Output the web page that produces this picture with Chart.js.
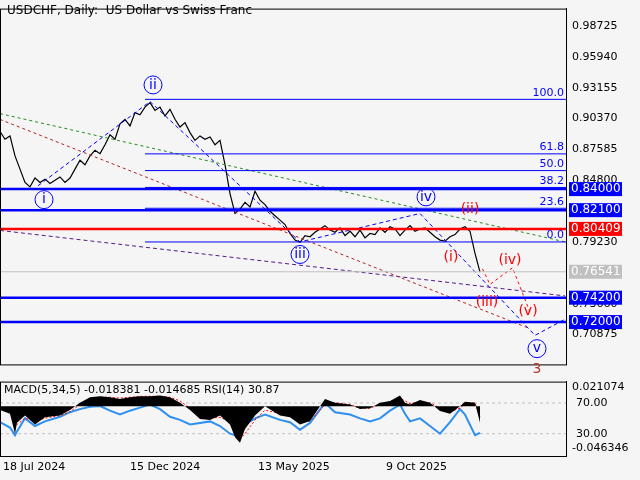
<!DOCTYPE html>
<html>
<head>
<meta charset="utf-8">
<script src="https://cdn.jsdelivr.net/npm/chart.js@4.4.1/dist/chart.umd.min.js"></script>
<style>
  body { margin: 0; background: #f5f5f5; }
  #main { position: absolute; left: 0; top: 0; }
  #sub { position: absolute; left: 0; top: 373px; }
</style>
</head>
<body>
<canvas id="main" width="640" height="373"></canvas>
<canvas id="sub" width="640" height="107"></canvas>
<script>
// price data, x = bar index (weeks), y = close
var priceX = [0,1,2,3,4,5,6,7,8,9,10,11,12,13,14,15,16,17,18,19,20,21,22,23,24,25,26,27,28,29,30,31,32,33,34,35,36,37,38,39,40,41,42,43,44,45,46,47,48,49,50,51,52,53,54,55,56,57,58,59,60,61,62,63,64,65,66,67,68,69,70,71,72,73,74,75,76,77,78,79,80,81,82,83,84,85,86,87,88,89,90,91,92,93,94,95,96];
var priceY = [0.892,0.885,0.888,0.870,0.858,0.846,0.842,0.850,0.846,0.849,0.845,0.848,0.851,0.846,0.850,0.858,0.866,0.862,0.870,0.875,0.872,0.880,0.889,0.885,0.899,0.903,0.897,0.909,0.907,0.914,0.918,0.911,0.914,0.906,0.912,0.903,0.896,0.900,0.891,0.884,0.888,0.885,0.887,0.880,0.884,0.862,0.836,0.818,0.822,0.828,0.824,0.838,0.830,0.826,0.820,0.816,0.812,0.808,0.800,0.794,0.792,0.798,0.797,0.801,0.804,0.807,0.803,0.801,0.805,0.798,0.802,0.797,0.803,0.796,0.800,0.799,0.805,0.801,0.806,0.804,0.798,0.803,0.807,0.802,0.804,0.805,0.801,0.797,0.794,0.793,0.797,0.799,0.804,0.806,0.802,0.782,0.765];
var yTicks = [0.98725,0.95940,0.93155,0.90370,0.87585,0.84800,0.82015,0.79230,0.76445,0.73660,0.70875];
var levels = [0.84000,0.82100,0.74200,0.72000];
var resistance = 0.80409;
var lastPrice = 0.76541;
var fibNames = ['100.0','61.8','50.0','38.2','23.6','0.0'];
var fibValues = [0.9210,0.8718,0.8567,0.8415,0.8227,0.7923];
var greenTrend = [[0,0.9081],[113,0.7924]];
var redTrend = [[0,0.9029],[106,0.7140]];
var purpleTrend = [[0,0.8027],[113,0.7436]];
var bigWave = [[7.6,0.8430],[30,0.9190],[60,0.7923],[84,0.8180],[107,0.7080],[114,0.7250]];
var bigWaveLabels = ['i','ii','iii','iv','v'];
var smallWave = [[96.5,0.7680],[98,0.7540],[102.5,0.7690],[106,0.7290]];
var smallLabels = [['(i)',90.2,0.7785],['(ii)',94,0.8220],['(iii)',97.4,0.7380],['(iv)',102,0.7760],['(v)',105.6,0.7300]];
// sub window
var oscX = [0,2,3,3.4,5,7,9,12,14,16,18,20,22,24,26,28,30,32,34,36,38,40,42,44,46,47,48,49,51,53,56,58,60,62,65,67,70,72,74,76,78,80,81,82,84,86,88,90,92,93,95,96];
var macd = [-0.004,-0.008,-0.030,-0.018,-0.010,-0.020,-0.012,-0.010,-0.004,0.004,0.010,0.011,0.010,0.008,0.010,0.011,0.011,0.012,0.010,0.004,-0.004,-0.014,-0.015,-0.010,-0.020,-0.034,-0.040,-0.025,-0.010,0.000,-0.010,-0.012,-0.020,-0.016,0.008,0.004,0.002,-0.003,-0.002,0.004,0.006,0.012,0.004,0.002,0.007,0.004,-0.005,-0.008,0.000,0.005,0.004,-0.018];
var signal = [-0.003,-0.006,-0.022,-0.020,-0.013,-0.016,-0.013,-0.010,-0.006,0.002,0.008,0.010,0.010,0.009,0.010,0.011,0.011,0.011,0.010,0.006,-0.002,-0.010,-0.013,-0.012,-0.017,-0.028,-0.036,-0.030,-0.015,-0.004,-0.008,-0.011,-0.017,-0.016,0.002,0.004,0.002,-0.002,-0.002,0.002,0.005,0.009,0.006,0.003,0.005,0.004,-0.002,-0.006,-0.002,0.003,0.004,-0.012];
var rsi = [45,38,28,33,50,40,46,52,58,62,65,66,60,55,60,64,68,62,52,48,42,44,46,40,30,28,32,42,50,55,48,45,35,44,70,58,55,50,46,50,60,68,56,46,50,40,30,45,62,55,28,31];
var timeLabels = ['18 Jul 2024','15 Dec 2024','13 May 2025','9 Oct 2025'];
var timeTicks = [0.6,26,51.6,77.2];

var FONT = '"DejaVu Sans", sans-serif';
function pts(xs, ys) { return xs.map(function (x, i) { return {x: x, y: ys[i]}; }); }
function pairs(a) { return a.map(function (p) { return {x: p[0], y: p[1]}; }); }
function hline(v, x0) { return [{x: x0, y: v}, {x: 113.2, y: v}]; }

var datasets = [];
datasets.push({data: hline(lastPrice, 0), borderColor: '#c0c0c0', borderWidth: 1});
fibValues.forEach(function (v) { datasets.push({data: hline(v, 29), borderColor: '#0000ff', borderWidth: 1}); });
levels.forEach(function (v) { datasets.push({data: hline(v, 0), borderColor: '#0000ff', borderWidth: 2.5}); });
datasets.push({data: hline(resistance, 0), borderColor: '#ff0000', borderWidth: 2.5});
datasets.push({data: pairs(greenTrend), borderColor: '#228b22', borderWidth: 1, borderDash: [3, 3]});
datasets.push({data: pairs(redTrend), borderColor: '#b22222', borderWidth: 1, borderDash: [3, 3]});
datasets.push({data: pairs(purpleTrend), borderColor: '#551a8b', borderWidth: 1, borderDash: [4, 3]});
datasets.push({data: pairs(bigWave), borderColor: '#0000ff', borderWidth: 1, borderDash: [4, 3]});
datasets.push({data: pairs(smallWave), borderColor: '#ff0000', borderWidth: 1, borderDash: [3, 3]});
datasets.push({data: pts(priceX, priceY), borderColor: '#000000', borderWidth: 1.2});

function frame(chart) {
    var c = chart.ctx, a = chart.chartArea;
    c.save();
    c.strokeStyle = '#000'; c.lineWidth = 1;
    c.strokeRect(a.left + 0.5, a.top + 0.5, a.right - a.left, a.bottom - a.top);
    c.restore();
}

var labelsPlugin = {
    id: 'marks',
    afterDatasetsDraw: function (chart) {
        var c = chart.ctx, xs = chart.scales.x, ys = chart.scales.y, a = chart.chartArea;
        frame(chart);
        c.save();
        c.font = '12px ' + FONT;
        c.fillStyle = '#000';
        c.textBaseline = 'top';
        c.fillText('USDCHF, Daily:  US Dollar vs Swiss Franc', 7, 5);
        // fib names
        c.font = '11px ' + FONT;
        c.fillStyle = '#0000ff';
        c.textAlign = 'right';
        c.textBaseline = 'bottom';
        fibNames.forEach(function (n, i) { c.fillText(n, a.right - 2, ys.getPixelForValue(fibValues[i]) - 1); });
        // wave labels
        c.textAlign = 'center';
        c.textBaseline = 'middle';
        var bigPos = [[8.8, 0.8305], [30.6, 0.9340], [60, 0.7810], [85.2, 0.8330], [107.4, 0.6960]];
        bigWaveLabels.forEach(function (n, i) {
            var px = xs.getPixelForValue(bigPos[i][0]), py = ys.getPixelForValue(bigPos[i][1]);
            c.beginPath(); c.arc(px, py, 9, 0, Math.PI * 2);
            c.strokeStyle = '#0000ff'; c.lineWidth = 1; c.stroke();
            c.font = '14px ' + FONT; c.fillStyle = '#0000ff'; c.fillText(n, px, py);
        });
        c.font = '14px ' + FONT;
        c.fillStyle = '#ff0000';
        smallLabels.forEach(function (l) { c.fillText(l[0], xs.getPixelForValue(l[1]), ys.getPixelForValue(l[2])); });
        c.fillStyle = '#b03a2e';
        c.fillText('3', xs.getPixelForValue(107.4), ys.getPixelForValue(0.6770));
        // price boxes
        c.font = '12px ' + FONT;
        c.textAlign = 'left';
        var boxes = levels.map(function (v) { return [v, '#0000ff']; });
        boxes.push([resistance, '#ff0000']);
        boxes.push([lastPrice, '#c0c0c0']);
        boxes.forEach(function (b) {
            var py = ys.getPixelForValue(b[0]);
            c.fillStyle = b[1];
            c.fillRect(a.right + 3, py - 7, 53, 14);
            c.fillStyle = '#fff';
            c.fillText(b[0].toFixed(5), a.right + 5, py);
        });
        c.restore();
    }
};

new Chart(document.getElementById('main'), {
    type: 'line',
    data: {datasets: datasets},
    options: {
        responsive: false,
        animation: false,
        layout: {padding: {top: 3, left: 0, right: 0, bottom: 0}},
        elements: {point: {radius: 0}, line: {tension: 0}},
        plugins: {legend: {display: false}, tooltip: {enabled: false}},
        scales: {
            x: {type: 'linear', min: 0, max: 113.2, display: false},
            y: {
                position: 'right', min: 0.6818, max: 1.0029,
                afterFit: function (s) { s.width = 74; },
                afterBuildTicks: function (s) { s.ticks = yTicks.map(function (v) { return {value: v}; }); },
                grid: {display: false, drawTicks: true, tickLength: 4},
                border: {color: '#000'},
                ticks: {color: '#000', font: {family: FONT, size: 11}, padding: 2,
                    callback: function (v) { return v.toFixed(5); }}
            }
        }
    },
    plugins: [labelsPlugin]
});

var subPlugin = {
    id: 'subtext',
    beforeDatasetsDraw: function (chart) {
        var c = chart.ctx, r = chart.scales.yr, a = chart.chartArea;
        c.save();
        c.strokeStyle = '#c0c0c0'; c.setLineDash([3, 3]);
        [70, 30].forEach(function (v) {
            var py = r.getPixelForValue(v);
            c.beginPath(); c.moveTo(a.left, py); c.lineTo(a.right, py); c.stroke();
        });
        c.restore();
    },
    afterDatasetsDraw: function (chart) {
        var c = chart.ctx, r = chart.scales.yr, a = chart.chartArea;
        frame(chart);
        c.save();
        c.font = '11px ' + FONT;
        c.fillStyle = '#000';
        c.textBaseline = 'top';
        c.fillText('MACD(5,34,5) -0.018381 -0.014685 RSI(14) 30.87', 4, a.top + 3);
        c.textBaseline = 'middle';
        [70, 30].forEach(function (v) { c.fillText(v.toFixed(2), a.right + 10, r.getPixelForValue(v)); });
        c.restore();
    }
};

new Chart(document.getElementById('sub'), {
    type: 'line',
    data: {datasets: [
        {data: pts(oscX, macd), yAxisID: 'y', borderWidth: 0, borderColor: '#000', backgroundColor: '#000', fill: 'origin'},
        {data: pts(oscX, signal), yAxisID: 'y', borderColor: '#ff0000', borderWidth: 1, borderDash: [2, 2]},
        {data: pts(oscX, rsi), yAxisID: 'yr', borderColor: '#2e8ff0', borderWidth: 2}
    ]},
    options: {
        responsive: false,
        animation: false,
        layout: {padding: {top: 3, left: 0, right: 0, bottom: 0}},
        elements: {point: {radius: 0}, line: {tension: 0}},
        plugins: {legend: {display: false}, tooltip: {enabled: false}},
        scales: {
            x: {
                type: 'linear', min: 0, max: 113.2,
                afterFit: function (s) { s.height = 24; },
                afterBuildTicks: function (s) { s.ticks = timeTicks.map(function (v) { return {value: v}; }); },
                grid: {display: false, drawTicks: true, tickLength: 4},
                border: {color: '#000'},
                ticks: {color: '#000', font: {family: FONT, size: 11}, maxRotation: 0, align: 'start', padding: 1,
                    callback: function (v, i) { return timeLabels[i]; }}
            },
            y: {
                position: 'right', min: -0.05452, max: 0.02720,
                afterFit: function (s) { s.width = 74; },
                afterBuildTicks: function (s) { s.ticks = [{value: 0.021074}, {value: -0.046346}]; },
                grid: {display: false, drawTicks: true, tickLength: 4},
                border: {color: '#000'},
                ticks: {color: '#000', font: {family: FONT, size: 11}, padding: 2,
                    callback: function (v) { return v.toFixed(6); }}
            },
            yr: {type: 'linear', axis: 'y', display: false, min: 0.9, max: 97.9}
        }
    },
    plugins: [subPlugin]
});
</script>
</body>
</html>
